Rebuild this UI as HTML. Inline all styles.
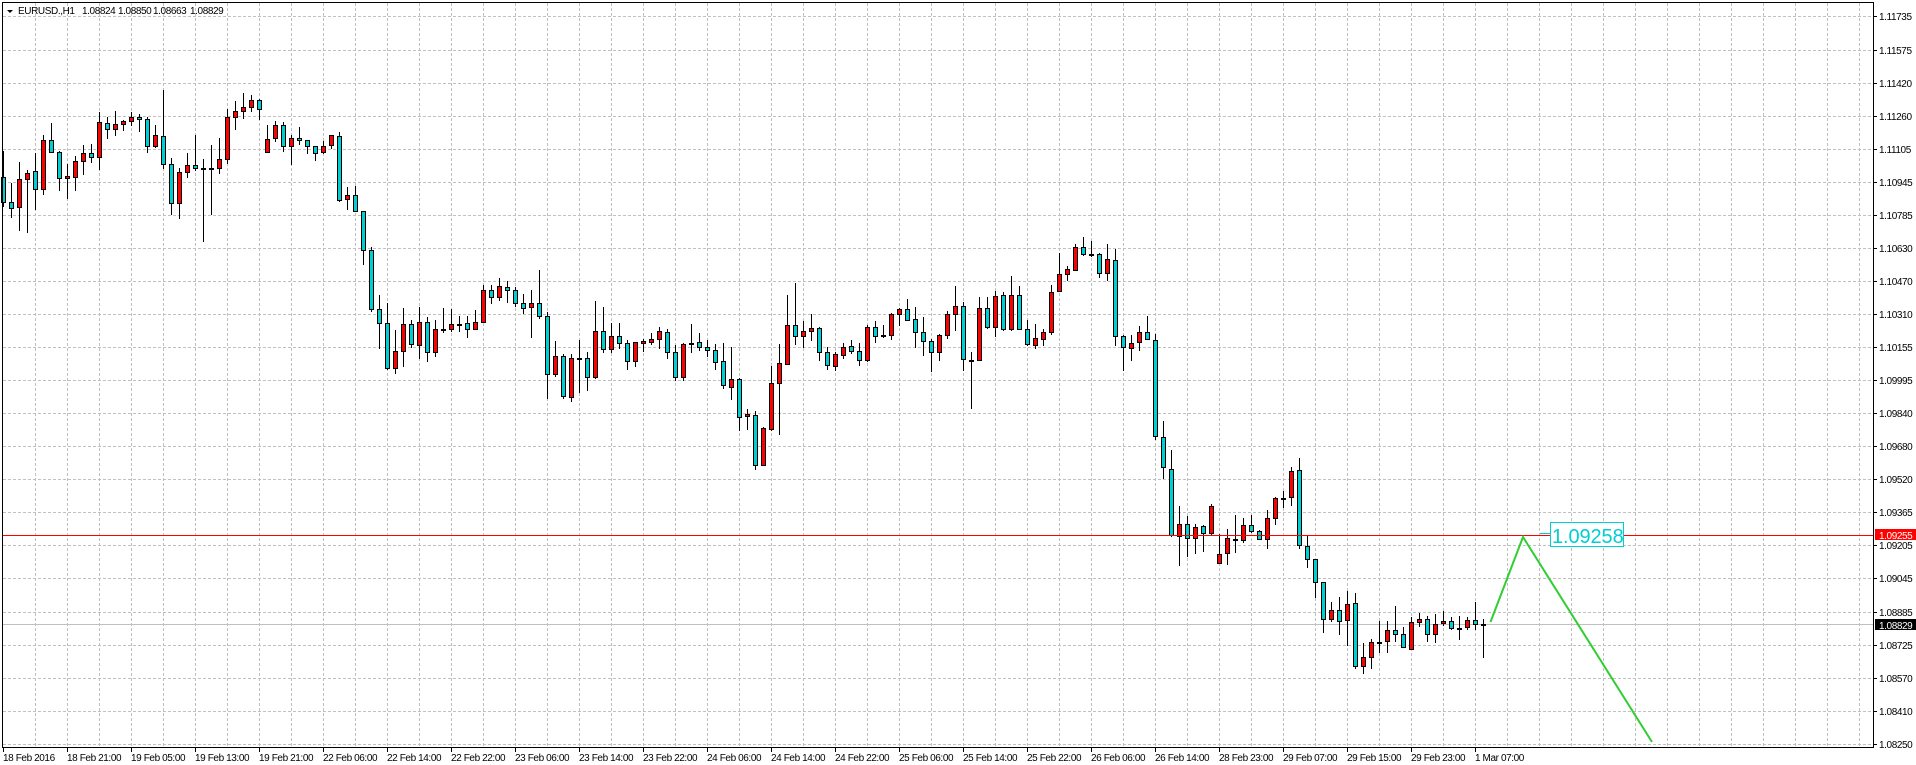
<!DOCTYPE html>
<html><head><meta charset="utf-8"><style>
html,body{margin:0;padding:0;background:#fff;}
svg{display:block;}
text{font-family:"Liberation Sans",Arial,sans-serif;}
.ax{font-size:10px;letter-spacing:-0.4px;fill:#000;}
.u{fill:#ff0000;stroke:#000;stroke-width:1;}
.d{fill:#00ced1;stroke:#000;stroke-width:1;}
.j{fill:#000;}
</style></head><body>
<svg width="1916" height="765" viewBox="0 0 1916 765" xmlns="http://www.w3.org/2000/svg">
<rect x="0" y="0" width="1916" height="765" fill="#fff"/>
<g shape-rendering="crispEdges" stroke="#c0c0c0" stroke-width="1" stroke-dasharray="3,2" fill="none">
<path d="M35.5 3V747M67.5 3V747M99.5 3V747M131.5 3V747M163.5 3V747M195.5 3V747M227.5 3V747M259.5 3V747M291.5 3V747M323.5 3V747M355.5 3V747M387.5 3V747M419.5 3V747M451.5 3V747M483.5 3V747M515.5 3V747M547.5 3V747M579.5 3V747M611.5 3V747M643.5 3V747M675.5 3V747M707.5 3V747M739.5 3V747M771.5 3V747M803.5 3V747M835.5 3V747M867.5 3V747M899.5 3V747M931.5 3V747M963.5 3V747M995.5 3V747M1027.5 3V747M1059.5 3V747M1091.5 3V747M1123.5 3V747M1155.5 3V747M1187.5 3V747M1219.5 3V747M1251.5 3V747M1283.5 3V747M1315.5 3V747M1347.5 3V747M1379.5 3V747M1411.5 3V747M1443.5 3V747M1475.5 3V747M1507.5 3V747M1539.5 3V747M1571.5 3V747M1603.5 3V747M1635.5 3V747M1667.5 3V747M1699.5 3V747M1731.5 3V747M1763.5 3V747M1795.5 3V747M1827.5 3V747M1859.5 3V747"/>
<path d="M3 16.5H1873M3 50.5H1873M3 83.5H1873M3 116.5H1873M3 149.5H1873M3 182.5H1873M3 215.5H1873M3 248.5H1873M3 281.5H1873M3 314.5H1873M3 347.5H1873M3 380.5H1873M3 413.5H1873M3 446.5H1873M3 479.5H1873M3 512.5H1873M3 545.5H1873M3 578.5H1873M3 612.5H1873M3 645.5H1873M3 678.5H1873M3 711.5H1873M3 744.5H1873"/>
</g>
<g shape-rendering="crispEdges">
<line x1="3" y1="624.5" x2="1873" y2="624.5" stroke="#c0c0c0" stroke-width="1"/>
<path stroke="#000" stroke-width="1" fill="none" d="M3.5 151V207M11.5 183V218M19.5 162V231M27.5 170V233M35.5 153V210M43.5 135V195M51.5 123V152M59.5 151V191M67.5 164V199M75.5 156V191M83.5 145V175M91.5 144V163M99.5 112V170M107.5 117V139M115.5 111V136M123.5 120V131M131.5 112V126M139.5 114V132M147.5 117V153M155.5 125V148M163.5 90V169M171.5 158V215M179.5 168V219M187.5 153V178M195.5 135V171M203.5 159V242M211.5 145V215M219.5 138V174M227.5 109V164M235.5 101V130M243.5 93V119M251.5 95V112M259.5 99V120M267.5 125V152M275.5 121V142M283.5 122V152M291.5 135V165M299.5 127V145M307.5 140V154M315.5 146V161M323.5 141V154M331.5 135V149M339.5 132V202M347.5 187V210M355.5 186V212M363.5 211V265M371.5 247V312M379.5 295V349M387.5 303V370M395.5 330V374M403.5 308V367M411.5 320V348M419.5 307V359M427.5 317V362M435.5 320V357M443.5 308V333M451.5 309V332M459.5 316V332M467.5 316V338M475.5 310V330M483.5 285V322M491.5 285V304M499.5 278V301M507.5 281V303M515.5 287V307M523.5 294V314M531.5 290V338M539.5 270V319M547.5 312V399M555.5 341V377M563.5 354V399M571.5 354V402M579.5 340V393M587.5 352V391M595.5 301V379M603.5 307V353M611.5 323V353M619.5 323V349M627.5 340V370M635.5 342V367M643.5 339V352M651.5 333V345M659.5 327V349M667.5 329V359M675.5 345V381M683.5 343V381M691.5 324V353M699.5 333V351M707.5 340V357M715.5 344V370M723.5 343V389M731.5 347V400M739.5 378V431M747.5 409V430M755.5 411V470M763.5 427V465M771.5 366V431M779.5 344V435M787.5 295V364M795.5 283V345M803.5 321V348M811.5 314V341M819.5 327V361M827.5 347V370M835.5 352V371M843.5 343V359M851.5 340V354M859.5 343V366M867.5 325V362M875.5 321V343M883.5 325V338M891.5 313V340M899.5 308V326M907.5 299V321M915.5 307V348M923.5 317V356M931.5 339V372M939.5 334V361M947.5 311V339M955.5 286V331M963.5 302V371M971.5 352V409M979.5 297V360M987.5 297V329M995.5 291V337M1003.5 292V331M1011.5 276V331M1019.5 286V329M1027.5 320V346M1035.5 324V349M1043.5 329V346M1051.5 285V335M1059.5 253V291M1067.5 266V281M1075.5 244V271M1083.5 237V256M1091.5 241V257M1099.5 253V278M1107.5 244V281M1115.5 249V346M1123.5 335V371M1131.5 335V361M1139.5 326V351M1147.5 316V340M1155.5 334V440M1163.5 421V479M1171.5 450V537M1179.5 506V566M1187.5 516V557M1195.5 524V554M1203.5 525V552M1211.5 504V535M1219.5 534V563M1227.5 529V565M1235.5 515V553M1243.5 518V543M1251.5 515V533M1259.5 530V540M1267.5 510V549M1275.5 497V525M1283.5 491V508M1291.5 467V506M1299.5 458V549M1307.5 536V568M1315.5 559V598M1323.5 582V633M1331.5 602V622M1339.5 597V635M1347.5 591V646M1355.5 593V669M1363.5 643V674M1371.5 639V669M1379.5 621V653M1387.5 621V653M1395.5 606V642M1403.5 627V647M1411.5 617V649M1419.5 613V627M1427.5 616V642M1435.5 614V643M1443.5 611V626M1451.5 617V630M1459.5 616V640M1467.5 617V630M1475.5 602V630M1483.5 619V658"/>
<rect class="d" x="1.5" y="177.5" width="4" height="25"/>
<rect class="d" x="9.5" y="202.5" width="4" height="6"/>
<rect class="u" x="17.5" y="179.5" width="4" height="28"/>
<rect class="u" x="25.5" y="173.5" width="4" height="6"/>
<rect class="d" x="33.5" y="171.5" width="4" height="18"/>
<rect class="u" x="41.5" y="140.5" width="4" height="49"/>
<rect class="d" x="49.5" y="140.5" width="4" height="12"/>
<rect class="d" x="57.5" y="152.5" width="4" height="26"/>
<rect class="u" x="65.5" y="176.5" width="4" height="2"/>
<rect class="u" x="73.5" y="161.5" width="4" height="16"/>
<rect class="u" x="81.5" y="153.5" width="4" height="8"/>
<rect class="d" x="89.5" y="153.5" width="4" height="4"/>
<rect class="u" x="97.5" y="122.5" width="4" height="35"/>
<rect class="d" x="105.5" y="123.5" width="4" height="6"/>
<rect class="u" x="113.5" y="124.5" width="4" height="5"/>
<rect class="u" x="121.5" y="121.5" width="4" height="3"/>
<rect class="u" x="129.5" y="117.5" width="4" height="4"/>
<rect class="d" x="137.5" y="117.5" width="4" height="2"/>
<rect class="d" x="145.5" y="119.5" width="4" height="27"/>
<rect class="u" x="153.5" y="135.5" width="4" height="11"/>
<rect class="d" x="161.5" y="136.5" width="4" height="28"/>
<rect class="d" x="169.5" y="164.5" width="4" height="39"/>
<rect class="u" x="177.5" y="172.5" width="4" height="31"/>
<rect class="u" x="185.5" y="165.5" width="4" height="7"/>
<rect class="d" x="193.5" y="165.5" width="4" height="3"/>
<rect class="j" x="201" y="168" width="5" height="2"/>
<rect class="j" x="209" y="168" width="5" height="2"/>
<rect class="u" x="217.5" y="159.5" width="4" height="9"/>
<rect class="u" x="225.5" y="117.5" width="4" height="42"/>
<rect class="u" x="233.5" y="111.5" width="4" height="6"/>
<rect class="u" x="241.5" y="107.5" width="4" height="4"/>
<rect class="u" x="249.5" y="100.5" width="4" height="7"/>
<rect class="d" x="257.5" y="100.5" width="4" height="9"/>
<rect class="u" x="265.5" y="139.5" width="4" height="13"/>
<rect class="u" x="273.5" y="125.5" width="4" height="13"/>
<rect class="d" x="281.5" y="125.5" width="4" height="21"/>
<rect class="u" x="289.5" y="138.5" width="4" height="8"/>
<rect class="d" x="297.5" y="138.5" width="4" height="2"/>
<rect class="d" x="305.5" y="140.5" width="4" height="6"/>
<rect class="d" x="313.5" y="146.5" width="4" height="7"/>
<rect class="u" x="321.5" y="146.5" width="4" height="6"/>
<rect class="u" x="329.5" y="135.5" width="4" height="10"/>
<rect class="d" x="337.5" y="136.5" width="4" height="64"/>
<rect class="u" x="345.5" y="195.5" width="4" height="4"/>
<rect class="d" x="353.5" y="195.5" width="4" height="16"/>
<rect class="d" x="361.5" y="211.5" width="4" height="39"/>
<rect class="d" x="369.5" y="250.5" width="4" height="59"/>
<rect class="d" x="377.5" y="309.5" width="4" height="14"/>
<rect class="d" x="385.5" y="323.5" width="4" height="45"/>
<rect class="u" x="393.5" y="351.5" width="4" height="17"/>
<rect class="u" x="401.5" y="324.5" width="4" height="27"/>
<rect class="d" x="409.5" y="324.5" width="4" height="20"/>
<rect class="u" x="417.5" y="322.5" width="4" height="23"/>
<rect class="d" x="425.5" y="322.5" width="4" height="30"/>
<rect class="u" x="433.5" y="329.5" width="4" height="23"/>
<rect class="j" x="441" y="329" width="5" height="2"/>
<rect class="u" x="449.5" y="324.5" width="4" height="5"/>
<rect class="j" x="457" y="324" width="5" height="2"/>
<rect class="d" x="465.5" y="323.5" width="4" height="6"/>
<rect class="u" x="473.5" y="322.5" width="4" height="7"/>
<rect class="u" x="481.5" y="290.5" width="4" height="32"/>
<rect class="d" x="489.5" y="290.5" width="4" height="7"/>
<rect class="u" x="497.5" y="286.5" width="4" height="11"/>
<rect class="d" x="505.5" y="287.5" width="4" height="3"/>
<rect class="d" x="513.5" y="290.5" width="4" height="13"/>
<rect class="d" x="521.5" y="303.5" width="4" height="5"/>
<rect class="u" x="529.5" y="303.5" width="4" height="4"/>
<rect class="d" x="537.5" y="303.5" width="4" height="13"/>
<rect class="d" x="545.5" y="316.5" width="4" height="58"/>
<rect class="u" x="553.5" y="356.5" width="4" height="18"/>
<rect class="d" x="561.5" y="356.5" width="4" height="40"/>
<rect class="u" x="569.5" y="358.5" width="4" height="39"/>
<rect class="j" x="577" y="358" width="5" height="2"/>
<rect class="d" x="585.5" y="358.5" width="4" height="19"/>
<rect class="u" x="593.5" y="331.5" width="4" height="46"/>
<rect class="d" x="601.5" y="331.5" width="4" height="18"/>
<rect class="u" x="609.5" y="336.5" width="4" height="13"/>
<rect class="d" x="617.5" y="336.5" width="4" height="7"/>
<rect class="d" x="625.5" y="343.5" width="4" height="18"/>
<rect class="u" x="633.5" y="342.5" width="4" height="19"/>
<rect class="u" x="641.5" y="341.5" width="4" height="2"/>
<rect class="u" x="649.5" y="339.5" width="4" height="3"/>
<rect class="u" x="657.5" y="331.5" width="4" height="8"/>
<rect class="d" x="665.5" y="332.5" width="4" height="20"/>
<rect class="d" x="673.5" y="352.5" width="4" height="25"/>
<rect class="u" x="681.5" y="344.5" width="4" height="33"/>
<rect class="j" x="689" y="343" width="5" height="2"/>
<rect class="d" x="697.5" y="342.5" width="4" height="5"/>
<rect class="d" x="705.5" y="347.5" width="4" height="3"/>
<rect class="d" x="713.5" y="350.5" width="4" height="12"/>
<rect class="d" x="721.5" y="361.5" width="4" height="24"/>
<rect class="u" x="729.5" y="379.5" width="4" height="8"/>
<rect class="d" x="737.5" y="379.5" width="4" height="38"/>
<rect class="u" x="745.5" y="414.5" width="4" height="2"/>
<rect class="d" x="753.5" y="415.5" width="4" height="50"/>
<rect class="u" x="761.5" y="428.5" width="4" height="37"/>
<rect class="u" x="769.5" y="383.5" width="4" height="46"/>
<rect class="u" x="777.5" y="363.5" width="4" height="20"/>
<rect class="u" x="785.5" y="325.5" width="4" height="39"/>
<rect class="d" x="793.5" y="325.5" width="4" height="11"/>
<rect class="u" x="801.5" y="331.5" width="4" height="5"/>
<rect class="u" x="809.5" y="328.5" width="4" height="3"/>
<rect class="d" x="817.5" y="328.5" width="4" height="24"/>
<rect class="d" x="825.5" y="352.5" width="4" height="13"/>
<rect class="u" x="833.5" y="354.5" width="4" height="12"/>
<rect class="u" x="841.5" y="347.5" width="4" height="8"/>
<rect class="d" x="849.5" y="346.5" width="4" height="5"/>
<rect class="d" x="857.5" y="351.5" width="4" height="9"/>
<rect class="u" x="865.5" y="327.5" width="4" height="33"/>
<rect class="d" x="873.5" y="327.5" width="4" height="9"/>
<rect class="j" x="881" y="335" width="5" height="2"/>
<rect class="u" x="889.5" y="314.5" width="4" height="21"/>
<rect class="u" x="897.5" y="309.5" width="4" height="5"/>
<rect class="d" x="905.5" y="309.5" width="4" height="11"/>
<rect class="d" x="913.5" y="319.5" width="4" height="13"/>
<rect class="d" x="921.5" y="332.5" width="4" height="9"/>
<rect class="d" x="929.5" y="341.5" width="4" height="11"/>
<rect class="u" x="937.5" y="335.5" width="4" height="17"/>
<rect class="u" x="945.5" y="314.5" width="4" height="21"/>
<rect class="u" x="953.5" y="306.5" width="4" height="8"/>
<rect class="d" x="961.5" y="306.5" width="4" height="53"/>
<rect class="j" x="969" y="360" width="5" height="2"/>
<rect class="u" x="977.5" y="308.5" width="4" height="52"/>
<rect class="d" x="985.5" y="308.5" width="4" height="19"/>
<rect class="u" x="993.5" y="296.5" width="4" height="31"/>
<rect class="d" x="1001.5" y="295.5" width="4" height="34"/>
<rect class="u" x="1009.5" y="295.5" width="4" height="34"/>
<rect class="d" x="1017.5" y="295.5" width="4" height="34"/>
<rect class="d" x="1025.5" y="329.5" width="4" height="15"/>
<rect class="u" x="1033.5" y="338.5" width="4" height="7"/>
<rect class="u" x="1041.5" y="332.5" width="4" height="7"/>
<rect class="u" x="1049.5" y="292.5" width="4" height="40"/>
<rect class="u" x="1057.5" y="274.5" width="4" height="17"/>
<rect class="u" x="1065.5" y="269.5" width="4" height="5"/>
<rect class="u" x="1073.5" y="247.5" width="4" height="23"/>
<rect class="d" x="1081.5" y="247.5" width="4" height="7"/>
<rect class="j" x="1089" y="254" width="5" height="2"/>
<rect class="d" x="1097.5" y="254.5" width="4" height="19"/>
<rect class="u" x="1105.5" y="259.5" width="4" height="14"/>
<rect class="d" x="1113.5" y="260.5" width="4" height="76"/>
<rect class="d" x="1121.5" y="336.5" width="4" height="11"/>
<rect class="u" x="1129.5" y="343.5" width="4" height="5"/>
<rect class="u" x="1137.5" y="332.5" width="4" height="10"/>
<rect class="d" x="1145.5" y="332.5" width="4" height="7"/>
<rect class="d" x="1153.5" y="340.5" width="4" height="96"/>
<rect class="d" x="1161.5" y="437.5" width="4" height="30"/>
<rect class="d" x="1169.5" y="469.5" width="4" height="66"/>
<rect class="u" x="1177.5" y="524.5" width="4" height="12"/>
<rect class="d" x="1185.5" y="524.5" width="4" height="14"/>
<rect class="u" x="1193.5" y="527.5" width="4" height="11"/>
<rect class="d" x="1201.5" y="526.5" width="4" height="7"/>
<rect class="u" x="1209.5" y="506.5" width="4" height="27"/>
<rect class="u" x="1217.5" y="554.5" width="4" height="9"/>
<rect class="u" x="1225.5" y="538.5" width="4" height="15"/>
<rect class="j" x="1233" y="539" width="5" height="2"/>
<rect class="u" x="1241.5" y="525.5" width="4" height="15"/>
<rect class="d" x="1249.5" y="525.5" width="4" height="6"/>
<rect class="d" x="1257.5" y="531.5" width="4" height="8"/>
<rect class="u" x="1265.5" y="518.5" width="4" height="21"/>
<rect class="u" x="1273.5" y="498.5" width="4" height="20"/>
<rect class="j" x="1281" y="498" width="5" height="2"/>
<rect class="u" x="1289.5" y="471.5" width="4" height="26"/>
<rect class="d" x="1297.5" y="470.5" width="4" height="75"/>
<rect class="d" x="1305.5" y="546.5" width="4" height="13"/>
<rect class="d" x="1313.5" y="559.5" width="4" height="23"/>
<rect class="d" x="1321.5" y="582.5" width="4" height="37"/>
<rect class="u" x="1329.5" y="610.5" width="4" height="9"/>
<rect class="d" x="1337.5" y="610.5" width="4" height="11"/>
<rect class="u" x="1345.5" y="604.5" width="4" height="16"/>
<rect class="d" x="1353.5" y="603.5" width="4" height="63"/>
<rect class="u" x="1361.5" y="657.5" width="4" height="9"/>
<rect class="u" x="1369.5" y="642.5" width="4" height="15"/>
<rect class="j" x="1377" y="642" width="5" height="2"/>
<rect class="u" x="1385.5" y="630.5" width="4" height="11"/>
<rect class="d" x="1393.5" y="630.5" width="4" height="4"/>
<rect class="d" x="1401.5" y="634.5" width="4" height="13"/>
<rect class="u" x="1409.5" y="622.5" width="4" height="27"/>
<rect class="u" x="1417.5" y="619.5" width="4" height="3"/>
<rect class="d" x="1425.5" y="619.5" width="4" height="15"/>
<rect class="u" x="1433.5" y="624.5" width="4" height="10"/>
<rect class="u" x="1441.5" y="621.5" width="4" height="2"/>
<rect class="d" x="1449.5" y="621.5" width="4" height="7"/>
<rect class="j" x="1457" y="628" width="5" height="2"/>
<rect class="u" x="1465.5" y="620.5" width="4" height="7"/>
<rect class="d" x="1473.5" y="620.5" width="4" height="4"/>
<rect class="j" x="1481" y="624" width="5" height="2"/>
<line x1="3" y1="535.5" x2="1873" y2="535.5" stroke="#ff0000" stroke-width="1"/>
</g>
<polyline points="1490.5,622 1523,537 1652,742" fill="none" stroke="#32cd32" stroke-width="2"/>
<rect x="1550.5" y="522.5" width="73" height="24" fill="#fff" stroke="#00ced1" stroke-width="1" shape-rendering="crispEdges"/>
<line x1="1540" y1="533.5" x2="1550" y2="533.5" stroke="#00ced1" stroke-width="1"/>
<text x="1552" y="543" font-size="20" fill="#00ced1" style="letter-spacing:-0.1px">1.09258</text>
<!-- frame -->
<rect x="2.5" y="2.5" width="1871" height="745" fill="none" stroke="#000" stroke-width="1" shape-rendering="crispEdges"/>
<!-- header -->
<polygon points="7,10 13,10 10,13" fill="#000"/>
<text x="18" y="14" class="ax">EURUSD.,H1</text>
<text x="82" y="14" class="ax">1.08824</text>
<text x="118" y="14" class="ax">1.08850</text>
<text x="153" y="14" class="ax">1.08663</text>
<text x="190" y="14" class="ax">1.08829</text>
<!-- right axis ticks -->
<path shape-rendering="crispEdges" stroke="#000" stroke-width="1" d="M1873 16.5H1877M1873 50.5H1877M1873 83.5H1877M1873 116.5H1877M1873 149.5H1877M1873 182.5H1877M1873 215.5H1877M1873 248.5H1877M1873 281.5H1877M1873 314.5H1877M1873 347.5H1877M1873 380.5H1877M1873 413.5H1877M1873 446.5H1877M1873 479.5H1877M1873 512.5H1877M1873 545.5H1877M1873 578.5H1877M1873 612.5H1877M1873 645.5H1877M1873 678.5H1877M1873 711.5H1877M1873 744.5H1877"/>
<g class="ax">
<text x="1879" y="20">1.11735</text>
<text x="1879" y="54">1.11575</text>
<text x="1879" y="87">1.11420</text>
<text x="1879" y="120">1.11260</text>
<text x="1879" y="153">1.11105</text>
<text x="1879" y="186">1.10945</text>
<text x="1879" y="219">1.10785</text>
<text x="1879" y="252">1.10630</text>
<text x="1879" y="285">1.10470</text>
<text x="1879" y="318">1.10310</text>
<text x="1879" y="351">1.10155</text>
<text x="1879" y="384">1.09995</text>
<text x="1879" y="417">1.09840</text>
<text x="1879" y="450">1.09680</text>
<text x="1879" y="483">1.09520</text>
<text x="1879" y="516">1.09365</text>
<text x="1879" y="549">1.09205</text>
<text x="1879" y="582">1.09045</text>
<text x="1879" y="616">1.08885</text>
<text x="1879" y="649">1.08725</text>
<text x="1879" y="682">1.08570</text>
<text x="1879" y="715">1.08410</text>
<text x="1879" y="748">1.08250</text>
</g>
<rect x="1875" y="529" width="41" height="11" fill="#ff0000" shape-rendering="crispEdges"/>
<text x="1879" y="539" class="ax" style="fill:#fff">1.09255</text>
<rect x="1875" y="619" width="41" height="11" fill="#000" shape-rendering="crispEdges"/>
<text x="1879" y="629" class="ax" style="fill:#fff">1.08829</text>
<!-- bottom ticks -->
<path shape-rendering="crispEdges" stroke="#000" stroke-width="1" d="M3.5 747V752M67.5 747V752M131.5 747V752M195.5 747V752M259.5 747V752M323.5 747V752M387.5 747V752M451.5 747V752M515.5 747V752M579.5 747V752M643.5 747V752M707.5 747V752M771.5 747V752M835.5 747V752M899.5 747V752M963.5 747V752M1027.5 747V752M1091.5 747V752M1155.5 747V752M1219.5 747V752M1283.5 747V752M1347.5 747V752M1411.5 747V752M1475.5 747V752"/>
<g class="ax">
<text x="3" y="761">18 Feb 2016</text>
<text x="67" y="761">18 Feb 21:00</text>
<text x="131" y="761">19 Feb 05:00</text>
<text x="195" y="761">19 Feb 13:00</text>
<text x="259" y="761">19 Feb 21:00</text>
<text x="323" y="761">22 Feb 06:00</text>
<text x="387" y="761">22 Feb 14:00</text>
<text x="451" y="761">22 Feb 22:00</text>
<text x="515" y="761">23 Feb 06:00</text>
<text x="579" y="761">23 Feb 14:00</text>
<text x="643" y="761">23 Feb 22:00</text>
<text x="707" y="761">24 Feb 06:00</text>
<text x="771" y="761">24 Feb 14:00</text>
<text x="835" y="761">24 Feb 22:00</text>
<text x="899" y="761">25 Feb 06:00</text>
<text x="963" y="761">25 Feb 14:00</text>
<text x="1027" y="761">25 Feb 22:00</text>
<text x="1091" y="761">26 Feb 06:00</text>
<text x="1155" y="761">26 Feb 14:00</text>
<text x="1219" y="761">28 Feb 23:00</text>
<text x="1283" y="761">29 Feb 07:00</text>
<text x="1347" y="761">29 Feb 15:00</text>
<text x="1411" y="761">29 Feb 23:00</text>
<text x="1475" y="761">1 Mar 07:00</text>
</g>
</svg>
</body></html>
